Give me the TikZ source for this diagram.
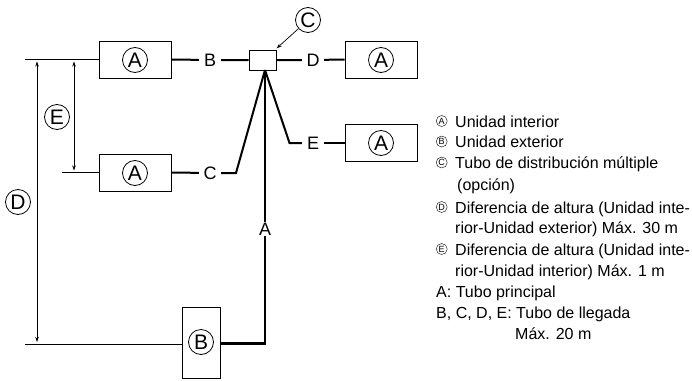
\documentclass[tikz,border=0pt]{standalone}
\usepackage{fontspec}
\setmainfont{Liberation Sans}
\usetikzlibrary{arrows.meta}
\tikzset{
  unitbox/.style={draw,line width=0.9pt,inner sep=0pt},
  bigcirc/.style={draw,circle,line width=0.8pt,minimum size=25pt,inner sep=0pt,font=\fontsize{21}{21}\selectfont},
  tinycirc/.style={draw,circle,line width=0.4pt,minimum size=11pt,inner sep=0pt,font=\fontsize{9}{9}\selectfont},
  pipelabel/.style={inner sep=0pt,minimum width=22pt,minimum height=14pt,font=\fontsize{18}{18}\selectfont},
  pipe/.style={line width=2pt},
  thickpipe/.style={line width=2.4pt},
  level/.style={line width=0.9pt},
  dimen/.style={line width=0.7pt,shorten <=2pt,shorten >=2pt,{Stealth[length=5pt,width=3.5pt]}-{Stealth[length=5pt,width=3.5pt]}},
  legend/.style={anchor=base west,inner sep=0pt,font=\fontsize{16}{16}\selectfont}
}
\begin{document}
\begin{tikzpicture}[x=1pt,y=-1pt]
\useasboundingbox (0,0) rectangle (692,380);
\node [unitbox,minimum width=72pt,minimum height=37pt] (unitA) at (135,59.5) {};
\node [unitbox,minimum width=72pt,minimum height=37pt] (unitB) at (135,172.5) {};
\node [unitbox,minimum width=72pt,minimum height=37pt] (unitC) at (381,59.5) {};
\node [unitbox,minimum width=72pt,minimum height=37pt] (unitD) at (381,143) {};
\node [unitbox,minimum width=38pt,minimum height=71pt] (outdoor) at (201,342.5) {};
\node [unitbox,minimum width=27pt,minimum height=20pt] (header) at (262.5,60) {};
\node [bigcirc] at (135,60) {A};
\node [bigcirc] at (135,173) {A};
\node [bigcirc] at (381,60) {A};
\node [bigcirc] at (381,143) {A};
\node [bigcirc] at (201,342) {B};
\node [bigcirc] (markC) at (308,20) {C};
\node [bigcirc] (markE) at (57,117) {E};
\node [bigcirc] (markD) at (18,202) {D};
\node [pipelabel] (labB) at (210,60) {B};
\node [pipelabel] (labC) at (210,173) {C};
\node [pipelabel] (labD) at (313,60) {D};
\node [pipelabel] (labE) at (313,143) {E};
\node [pipelabel] (labA) at (265,229) {A};
\coordinate (bendC) at (236,173);
\coordinate (bendE) at (289.5,143);
\coordinate (bendA) at (265,343.5);
\coordinate (topA) at (265,70);
\coordinate (levelA) at (25,59.5);
\coordinate (levelB) at (62,172.5);
\coordinate (levelD) at (25,344);
\coordinate (tickD1) at (37,59.5);
\coordinate (tickD2) at (37,344);
\coordinate (tickE1) at (74,59.5);
\coordinate (tickE2) at (74,172.5);
\coordinate (tipC) at (276.7,48.3);
\draw[pipe] (unitA.east) -- (labB) -- (header.west);
\draw[pipe] (header.east) -- (labD) -- (unitC.west);
\draw[pipe] (unitB.east) -- (labC);
\draw[pipe] (labC) -- (bendC) -- (topA);
\draw[pipe] (topA) -- (bendE) -- (labE);
\draw[pipe] (labE) -- (unitD.west);
\draw[thickpipe] (topA) -- (labA);
\draw[thickpipe] (labA) -- (bendA) -- (outdoor.east |- bendA);
\draw[level] (levelA) -- (unitA.west |- levelA);
\draw[level] (levelB) -- (unitB.west |- levelB);
\draw[level] (levelD) -- (outdoor.west |- levelD);
\draw[dimen] (tickD1) -- (tickD2);
\draw[dimen] (tickE1) -- (tickE2);
\draw[line width=0.7pt,-{Stealth[length=5pt,width=3.5pt]}] (markC) -- (tipC);
\foreach \Row/\RowLetter in {127/A,147.5/B,168.5/C,213/D,255/E}
\node [tinycirc] (key\RowLetter) at (441.7,\Row-6) {\RowLetter};
\foreach \Row/\RowX/\RowText in {127/455/Unidad interior,147.5/455/Unidad exterior,168.5/455/Tubo de distribución múltiple,190/457/(opción),213/455/Diferencia de altura (Unidad inte-,233.5/455/rior-Unidad exterior) Máx. 30 m,255/455/Diferencia de altura (Unidad inte-,276/455/rior-Unidad interior) Máx. 1 m,297/436/A: Tubo principal,318/436/{B, C, D, E: Tubo de llegada},339/515/Máx. 20 m}
\node [legend] (text\Row) at (\RowX,\Row) {\RowText};
\end{tikzpicture}
\end{document}
